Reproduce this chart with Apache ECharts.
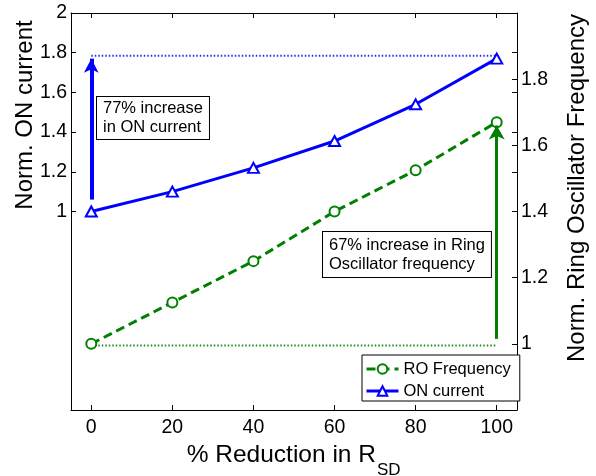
<!DOCTYPE html>
<html>
<head>
<meta charset="utf-8">
<script src="https://cdn.jsdelivr.net/npm/echarts@6/dist/echarts.min.js"></script>
<style>
  html, body { margin: 0; padding: 0; background: #fff; }
  #chart { width: 596px; height: 476px; }
</style>
</head>
<body>
<div id="chart"></div>
<script>
// Normalized ON current and ring-oscillator frequency vs. % reduction in R_SD
const reductionPct = [0, 20, 40, 60, 80, 100];
const onCurrent = [1.00, 1.10, 1.22, 1.355, 1.54, 1.77];
const roFrequency = [1.00, 1.125, 1.25, 1.40, 1.525, 1.67];

const xTicks = [0, 20, 40, 60, 80, 100];
const leftTicks = [1, 1.2, 1.4, 1.6, 1.8, 2];
const rightTicks = [1, 1.2, 1.4, 1.6, 1.8];

// dotted reference levels and the two "increase" arrows
const onGuideLevel = 1.785;
const roGuideLevel = 0.995;
const onArrowSpan = [1.06, 1.77];
const roArrowSpan = [1.015, 1.66];

const FONT = '"Liberation Sans", Arial, Helvetica, sans-serif';
const BLUE = '#0000ff';
const GREEN = '#008000';

const pairs = (ys) => reductionPct.map((x, i) => [x, ys[i]]);
const xFirst = reductionPct[0];
const xLast = reductionPct[reductionPct.length - 1];

const chart = echarts.init(document.getElementById('chart'), null, { renderer: 'canvas' });

const tickStyle = { show: true, inside: true, length: 5, lineStyle: { color: '#000', width: 1 } };
const boxLine = { show: true, onZero: false, lineStyle: { color: '#000', width: 1 } };
const labelStyle = { color: '#000', fontSize: 19.5, fontFamily: FONT };

chart.setOption({
  animation: false,
  backgroundColor: '#fff',
  grid: { left: 71, right: 79, top: 13, bottom: 66, containLabel: false, outerBoundsMode: 'none' },
  xAxis: [
    {
      type: 'value', position: 'bottom', min: -5, max: 105,
      axisLine: boxLine,
      axisTick: Object.assign({ customValues: xTicks }, tickStyle),
      axisLabel: Object.assign({ customValues: xTicks, margin: 8 }, labelStyle),
      splitLine: { show: false }
    },
    {
      type: 'value', position: 'top', min: -5, max: 105,
      axisLine: boxLine,
      axisTick: Object.assign({ customValues: xTicks }, tickStyle),
      axisLabel: { show: false },
      splitLine: { show: false }
    }
  ],
  yAxis: [
    {
      type: 'value', position: 'left', min: 0, max: 2,
      axisLine: boxLine,
      axisTick: Object.assign({ customValues: leftTicks }, tickStyle),
      axisLabel: Object.assign({ customValues: leftTicks, margin: 4 }, labelStyle),
      splitLine: { show: false }
    },
    {
      type: 'value', position: 'right', min: 0.8, max: 2,
      axisLine: boxLine,
      axisTick: Object.assign({ customValues: rightTicks }, tickStyle),
      axisLabel: Object.assign({ customValues: rightTicks, margin: 4 }, labelStyle),
      splitLine: { show: false }
    },
    {
      // left-scale ticks repeated along the right edge of the box
      type: 'value', position: 'right', min: 0, max: 2,
      axisLine: { show: false, onZero: false },
      axisTick: Object.assign({ customValues: leftTicks }, tickStyle),
      axisLabel: { show: false },
      splitLine: { show: false }
    }
  ],
  legend: {
    data: ['RO Frequency', 'ON current'],
    orient: 'vertical',
    left: 362, top: 355,
    padding: [5, 9, 1, 3],
    itemGap: 4,
    itemWidth: 32, itemHeight: 12,
    backgroundColor: '#fff',
    borderColor: '#000', borderWidth: 1, borderRadius: 0,
    lineStyle: { width: 3 },
    textStyle: { color: '#000', fontSize: 16.5, fontFamily: FONT, lineHeight: 18 },
    selectedMode: false
  },
  series: [
    {
      name: 'RO guide', type: 'line', xAxisIndex: 0, yAxisIndex: 1,
      data: [[xFirst, roGuideLevel], [xLast, roGuideLevel]],
      symbol: 'none', silent: true, z: 1,
      lineStyle: { color: '#1a8f1a', width: 2, type: [1.5, 2] }
    },
    {
      name: 'ON guide', type: 'line', xAxisIndex: 0, yAxisIndex: 0,
      data: [[xFirst, onGuideLevel], [xLast, onGuideLevel]],
      symbol: 'none', silent: true, z: 1,
      lineStyle: { color: '#2a2aff', width: 2, type: [1.5, 2] }
    },
    {
      name: 'RO Frequency', type: 'line', xAxisIndex: 0, yAxisIndex: 1,
      data: pairs(roFrequency),
      symbol: 'emptyCircle', symbolSize: 10, z: 3,
      lineStyle: { color: GREEN, width: 3, type: [9, 5] },
      itemStyle: { color: GREEN, borderWidth: 2.5 },
      markLine: {
        silent: true, animation: false,
        symbol: ['none', 'arrow'], symbolSize: [12, 14],
        label: { show: false },
        lineStyle: { color: GREEN, width: 3, type: 'solid' },
        data: [[{ coord: [xLast, roArrowSpan[0]] }, { coord: [xLast, roArrowSpan[1]] }]]
      }
    },
    {
      name: 'ON current', type: 'line', xAxisIndex: 0, yAxisIndex: 0,
      data: pairs(onCurrent),
      symbol: 'emptyTriangle', symbolSize: [11, 10], z: 3,
      lineStyle: { color: BLUE, width: 3, type: 'solid' },
      itemStyle: { color: BLUE, borderWidth: 2.5 },
      markLine: {
        silent: true, animation: false,
        symbol: ['none', 'arrow'], symbolSize: [11, 14],
        label: { show: false },
        lineStyle: { color: BLUE, width: 4, type: 'solid' },
        data: [[{ coord: [xFirst, onArrowSpan[0]] }, { coord: [xFirst, onArrowSpan[1]] }]]
      }
    }
  ],
  graphic: [
    {
      type: 'text', x: 25, y: 115, rotation: Math.PI / 2,
      style: { text: 'Norm. ON current', fill: '#000', fontSize: 24, fontFamily: FONT, align: 'center', verticalAlign: 'middle' }
    },
    {
      type: 'text', x: 577, y: 188, rotation: Math.PI / 2,
      style: { text: 'Norm. Ring Oscillator Frequency', fill: '#000', fontSize: 24, fontFamily: FONT, align: 'center', verticalAlign: 'middle' }
    },
    {
      type: 'text', x: 376, y: 455,
      style: { text: '% Reduction in R', fill: '#000', fontSize: 24.5, fontFamily: FONT, align: 'right', verticalAlign: 'middle' }
    },
    {
      type: 'text', x: 377, y: 470,
      style: { text: 'SD', fill: '#000', fontSize: 17, fontFamily: FONT, align: 'left', verticalAlign: 'middle' }
    },
    {
      type: 'text', x: 97, y: 97, z: 10,
      style: {
        text: '77% increase\nin ON current', fill: '#000', fontSize: 16.5, fontFamily: FONT, lineHeight: 19,
        align: 'left', verticalAlign: 'top',
        backgroundColor: '#fff', borderColor: '#000', borderWidth: 1, padding: [2, 6, 2, 6]
      }
    },
    {
      type: 'text', x: 323, y: 232, z: 10,
      style: {
        text: '67% increase in Ring\nOscillator frequency', fill: '#000', fontSize: 16.5, fontFamily: FONT, lineHeight: 19,
        align: 'left', verticalAlign: 'top',
        backgroundColor: '#fff', borderColor: '#000', borderWidth: 1, padding: [4, 6, 3, 6]
      }
    }
  ]
});
</script>
</body>
</html>
